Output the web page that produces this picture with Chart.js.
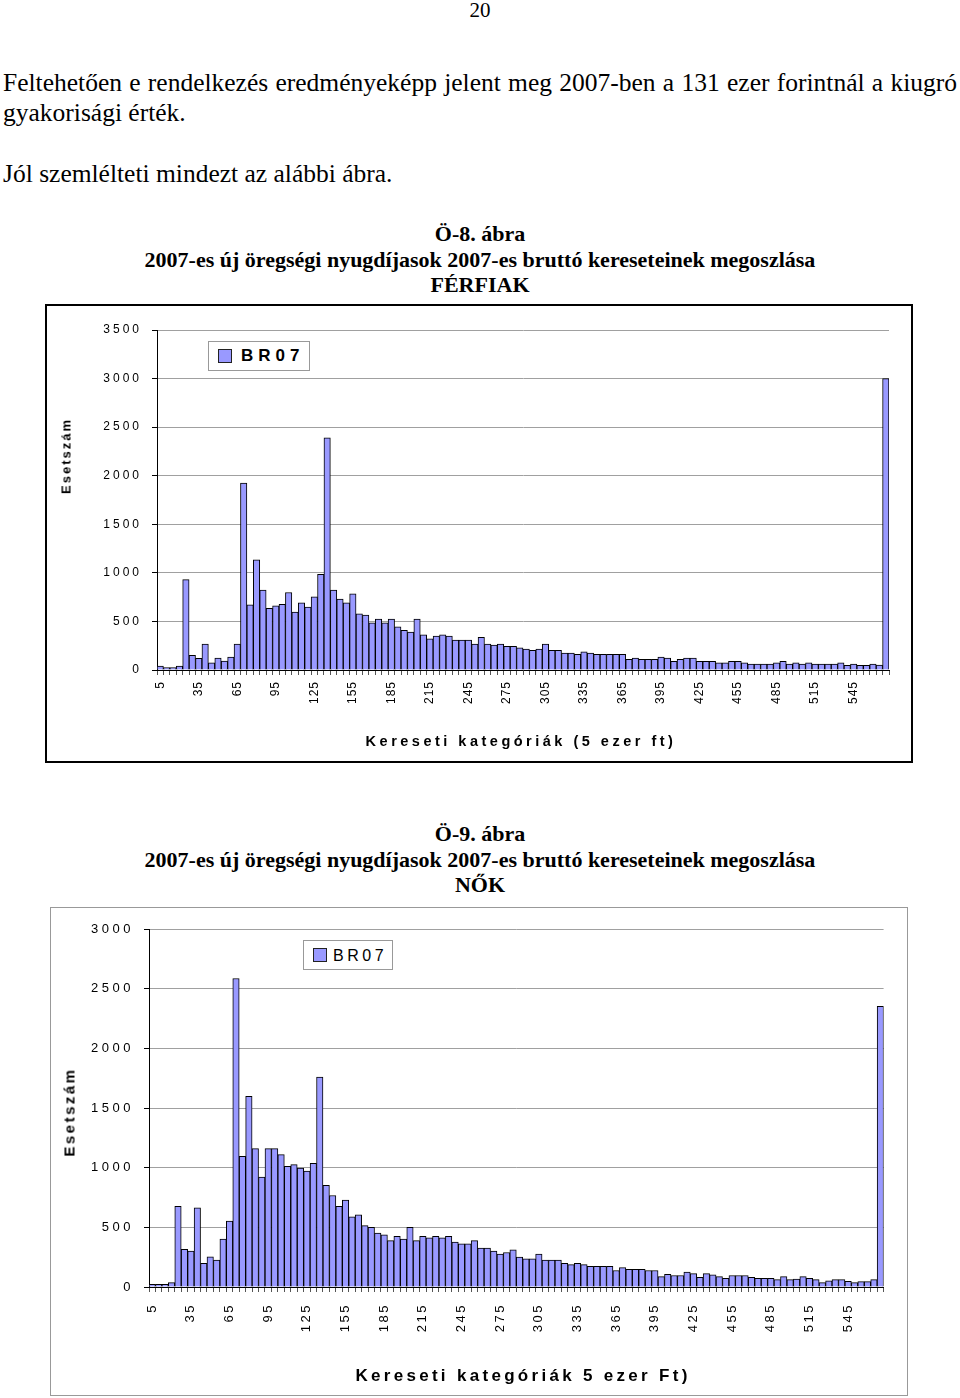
<!DOCTYPE html>
<html lang="hu">
<head>
<meta charset="utf-8">
<script src="https://cdn.jsdelivr.net/npm/chart.js@4/dist/chart.umd.min.js"></script>
<style>
  body { margin: 0; width: 960px; height: 1398px; position: relative; background: #fff; color: #000;
         font-family: "Liberation Serif", "Times New Roman", serif; overflow: hidden; }
  .abs { position: absolute; white-space: nowrap; }
  .para { font-size: 25.5px; line-height: 30px; left: 3px; }
  .ttl { left: 0; width: 960px; text-align: center; font-size: 22px; line-height: 25.5px; font-weight: bold; }
  .sans { font-family: "Liberation Sans", Arial, sans-serif; }
  .vert { transform: translate(-50%, -50%) rotate(-90deg); font-weight: bold; }
  .horiz { transform: translate(-50%, -50%); font-weight: bold; }
  .legend { position: absolute; box-sizing: border-box; border: 1px solid #999; background: #fff; }
  .legend .sw { position: absolute; width: 14px; height: 14px; box-sizing: border-box; background: #9999ff; border: 1px solid #222; }
  .legend .lt { position: absolute; white-space: nowrap; }
  canvas { position: absolute; }
</style>
</head>
<body>

<div class="abs" style="left:0;top:0;width:960px;text-align:center;font-size:21px;line-height:21px;">20</div>

<div class="abs para" style="top:68px;width:954px;text-align:justify;text-align-last:justify;">Feltehetően e rendelkezés eredményeképp jelent meg 2007-ben a 131 ezer forintnál a kiugró</div>
<div class="abs para" style="top:98px;">gyakorisági érték.</div>
<div class="abs para" style="top:159px;">Jól szemlélteti mindezt az alábbi ábra.</div>

<div class="abs ttl" style="top:221px;">Ö-8. ábra<br>2007-es új öregségi nyugdíjasok 2007-es bruttó kereseteinek megoszlása<br>FÉRFIAK</div>

<div class="abs" style="left:45px;top:304px;width:868px;height:459px;box-sizing:border-box;border:2px solid #000;"></div>
<canvas id="ferfiChart" width="864" height="455" style="left:47px;top:306px;"></canvas>
<div class="abs sans vert" style="left:66px;top:456px;font-size:13px;letter-spacing:2px;">Esetszám</div>
<div class="abs sans horiz" style="left:521px;top:741px;font-size:14.5px;letter-spacing:3.5px;">Kereseti kategóriák (5 ezer ft)</div>
<div class="legend sans" style="left:208px;top:341px;width:102px;height:30px;">
  <div class="sw" style="left:9px;top:7px;"></div>
  <div class="lt" style="left:32px;top:4px;font-size:17px;line-height:20px;font-weight:bold;letter-spacing:5px;">BR07</div>
</div>

<div class="abs ttl" style="top:821px;">Ö-9. ábra<br>2007-es új öregségi nyugdíjasok 2007-es bruttó kereseteinek megoszlása<br>NŐK</div>

<div class="abs" style="left:50px;top:907px;width:858px;height:489px;box-sizing:border-box;border:1px solid #999;"></div>
<canvas id="noChart" width="856" height="487" style="left:51px;top:908px;"></canvas>
<div class="abs sans vert" style="left:69px;top:1112px;font-size:15px;letter-spacing:2.5px;">Esetszám</div>
<div class="abs sans horiz" style="left:523px;top:1376px;font-size:17px;letter-spacing:3.3px;">Kereseti kategóriák 5 ezer Ft)</div>
<div class="legend sans" style="left:303px;top:940px;width:90px;height:30px;">
  <div class="sw" style="left:9px;top:7px;"></div>
  <div class="lt" style="left:29px;top:5px;font-size:16px;line-height:19px;letter-spacing:3.5px;">BR07</div>
</div>

<script>
// keresetei kategóriák (5 ezer Ft-os sávok)
const categories = ['5','10','15','20','25','30','35','40','45','50','55','60','65','70','75','80','85','90','95','100',
  '105','110','115','120','125','130','135','140','145','150','155','160','165','170','175','180','185','190','195','200',
  '205','210','215','220','225','230','235','240','245','250','255','260','265','270','275','280','285','290','295','300',
  '305','310','315','320','325','330','335','340','345','350','355','360','365','370','375','380','385','390','395','400',
  '405','410','415','420','425','430','435','440','445','450','455','460','465','470','475','480','485','490','495','500',
  '505','510','515','520','525','530','535','540','545','550','555','560','565','570'];

// only every 6th category gets a label
const tickLabels = ['5','35','65','95','125','155','185','215','245','275','305','335','365','395','425','455','485','515','545'];

// Ö-8. ábra - férfiak
const ferfiak = [40, 25, 25, 40, 930, 150, 120, 267, 75, 123, 92, 134, 267, 1925,
  671, 1134, 822, 634, 661, 675, 798, 596, 692, 647, 753, 986, 2390, 822, 729, 692, 784, 579, 565, 486, 524, 486, 524, 445,
  408, 390, 524, 363, 322, 349, 363, 349, 308, 308, 308, 267, 336, 267, 257, 267, 243, 243, 229, 216, 202, 216,
  267, 202, 202, 175, 175, 161, 188, 175, 161, 161, 161, 161, 161, 110, 123, 110,
  110, 110, 134, 123, 89, 110, 123, 123, 89, 89, 89, 75, 75, 89, 89, 75, 62, 62, 62, 62,
  75, 89, 62, 75, 62, 75, 62, 62, 62, 62, 75, 48, 62, 48, 48, 62, 51, 3000];

// Ö-9. ábra - nők
const nok = [22, 22, 22, 37, 677, 315, 300, 663, 199, 253, 225, 402, 553, 2585,
  1095, 1598, 1159, 922, 1159, 1159, 1109, 1011, 1025, 997, 972, 1036, 1760, 852, 767, 677, 728, 587, 604, 514,
  500, 452, 438, 388, 424, 402, 500, 388, 424, 413, 424, 413, 424, 376, 362, 362, 388, 326, 326, 301, 275, 289, 312,
  250, 236, 236, 275, 225, 225, 225, 199, 188, 199, 188, 174, 174, 174, 174, 138,
  163, 149, 149, 149, 138, 138, 87, 107, 96, 96, 124, 112, 81, 112, 101, 87, 73, 96, 96, 96,
  81, 73, 73, 73, 62, 87, 62, 67, 87, 73, 62, 37, 51, 62, 62, 48, 37, 45, 45, 62, 2353];

// canvas has letterSpacing, chart.js doesn't - patch the label drawing of each axis
function spacedTicks(spacing) {
    return {
        id: 'spacedTicks',
        afterLayout(chart) {
            for (const key of ['x', 'y']) {
                const scale = chart.scales[key];
                if (!scale || scale._spaced) continue;
                const draw = scale.drawLabels;
                scale.drawLabels = function (area) {
                    this.ctx.save();
                    this.ctx.letterSpacing = spacing[key] + 'px';
                    draw.call(this, area);
                    this.ctx.restore();
                };
                scale._spaced = true;
            }
        }
    };
}

function makeChart(id, values, o) {
    let data = {
        labels: categories,
        datasets: [{
            label: 'BR07',
            data: values,
            backgroundColor: '#9999ff',
            borderColor: '#000',
            borderWidth: 1,
            categoryPercentage: 1,
            barPercentage: 1,
        }]
    };
    let options = {
        responsive: false,
        animation: false,
        devicePixelRatio: 1,
        layout: { padding: { top: o.top, right: o.right, left: 0, bottom: 0 } },
        plugins: { legend: { display: false }, tooltip: { enabled: false } },
        scales: {
            x: {
                grid: { drawOnChartArea: false, tickLength: 5, tickColor: '#555' },
                border: { color: '#000' },
                ticks: {
                    autoSkip: false, minRotation: 90, maxRotation: 90,
                    padding: o.xPad, color: '#000',
                    font: { family: 'Liberation Sans', size: o.xFont },
                    callback: (v, i) => tickLabels.includes(categories[i]) ? categories[i] : ''
                },
                afterFit: s => { s.height = o.xHeight; }
            },
            y: {
                min: 0, max: o.max,
                grid: { color: '#a0a0a0', tickColor: '#000', tickLength: 5 },
                border: { color: '#000' },
                ticks: {
                    stepSize: 500, padding: o.yPad, color: '#000',
                    font: { family: 'Liberation Sans', size: o.yFont },
                    callback: v => String(v)
                },
                afterFit: s => { s.width = o.yWidth; }
            }
        }
    };
    return new Chart(document.getElementById(id), {
        type: 'bar', data, options,
        plugins: [spacedTicks({ x: o.xSpace, y: o.ySpace })]
    });
}

makeChart('ferfiChart', ferfiak, {
    max: 3500, top: 24, right: 22, yWidth: 110, xHeight: 91,
    yFont: 12, ySpace: 3, yPad: 10, xFont: 12, xSpace: 1, xPad: 6
});

makeChart('noChart', nok, {
    max: 3000, top: 21, right: 7, yWidth: 98, xHeight: 108,
    yFont: 13, ySpace: 3.5, yPad: 10, xFont: 13, xSpace: 2.5, xPad: 11
});
</script>
</body>
</html>
